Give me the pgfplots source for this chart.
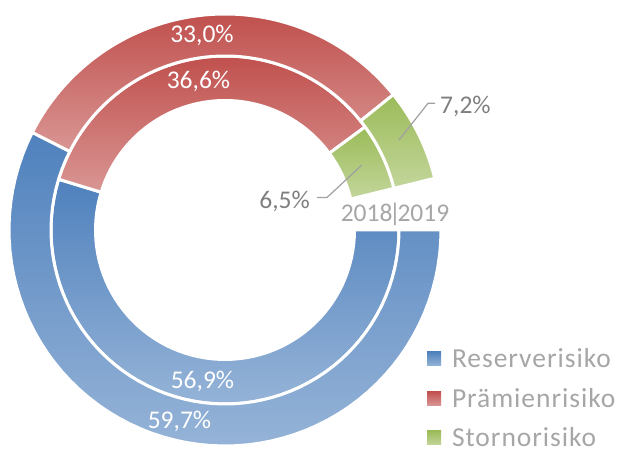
\documentclass[border=0pt]{standalone}
\usepackage{pgfplots}
\pgfplotsset{compat=1.18}
\usepackage{pgfplotstable}
\usepackage{fontspec}
\setmainfont{Carlito}
\newfontfamily\legendfamily[LetterSpace=3.5]{Carlito}

\definecolor{blueT}{HTML}{4F81BD}
\definecolor{blueB}{HTML}{95B3D7}
\definecolor{redT}{HTML}{C0504D}
\definecolor{redB}{HTML}{D99694}
\definecolor{greenT}{HTML}{9BBB59}
\definecolor{greenB}{HTML}{C3D69B}
\definecolor{labgray}{HTML}{7F7F7F}
\definecolor{leggray}{HTML}{A6A6A6}
\definecolor{linegray}{HTML}{A0A0A0}

% shares in percent; outer ring = 2019, inner ring = 2018; "Luecke" = invisible gap slice
\pgfplotstableread{
segment outer inner
Reserverisiko 59.7 56.9
Praemienrisiko 33.0 36.6
Stornorisiko 7.2 6.5
Luecke 4.0 4.0
}\shares

\pgfplotstablegetelem{0}{outer}\of\shares\pgfmathsetmacro\oA{\pgfplotsretval}
\pgfplotstablegetelem{1}{outer}\of\shares\pgfmathsetmacro\oB{\pgfplotsretval}
\pgfplotstablegetelem{2}{outer}\of\shares\pgfmathsetmacro\oC{\pgfplotsretval}
\pgfplotstablegetelem{3}{outer}\of\shares\pgfmathsetmacro\oD{\pgfplotsretval}
\pgfplotstablegetelem{0}{inner}\of\shares\pgfmathsetmacro\iA{\pgfplotsretval}
\pgfplotstablegetelem{1}{inner}\of\shares\pgfmathsetmacro\iB{\pgfplotsretval}
\pgfplotstablegetelem{2}{inner}\of\shares\pgfmathsetmacro\iC{\pgfplotsretval}
\pgfplotstablegetelem{3}{inner}\of\shares\pgfmathsetmacro\iD{\pgfplotsretval}
\pgfmathsetmacro\oT{\oA+\oB+\oC+\oD}
\pgfmathsetmacro\iT{\iA+\iB+\iC+\iD}
\pgfmathsetmacro\oa{-\oA/\oT*360}
\pgfmathsetmacro\ob{-(\oA+\oB)/\oT*360}
\pgfmathsetmacro\oc{-(\oA+\oB+\oC)/\oT*360}
\pgfmathsetmacro\ia{-\iA/\iT*360}
\pgfmathsetmacro\ib{-(\iA+\iB)/\iT*360}
\pgfmathsetmacro\ic{-(\iA+\iB+\iC)/\iT*360}

% ring segment: #1 start angle, #2 end angle, #3 inner radius, #4 outer radius, #5 top colour, #6 bottom colour
\newcommand{\ringseg}[6]{%
  \addplot[forget plot, no markers, draw=white, line width=3bp, line join=miter,
    top color=#5, bottom color=#6, variable=\t,
    samples at={0,0.015625,...,1,2,2.015625,...,3}]
    ({(\t<1.5 ? (#4) : (#3))*cos(\t<1.5 ? (#1)+((#2)-(#1))*\t : (#2)+((#1)-(#2))*(\t-2))},
     {(\t<1.5 ? (#4) : (#3))*sin(\t<1.5 ? (#1)+((#2)-(#1))*\t : (#2)+((#1)-(#2))*(\t-2))}) -- cycle;
}
\newcommand{\labfont}{\fontsize{25.5bp}{30bp}\selectfont}
\newcommand{\legfont}{\legendfamily\fontsize{27.5bp}{33bp}\selectfont}

\begin{document}
\begin{tikzpicture}
\begin{axis}[
  scale only axis, width=619bp, height=450bp,
  xmin=-225, xmax=394, ymin=-220, ymax=230,
  hide axis, clip=false,
  legend cell align=left,
  legend style={at={(axis cs:202,-114)}, anchor=north west, draw=none, fill=none,
    inner sep=0pt, outer sep=0pt, row sep=14.5bp, font=\legfont, text=leggray,
    nodes={inner sep=0pt, outer sep=0pt}},
]
\addplot[forget plot, draw=none] coordinates {(-225,-220) (394,230)};
% inner ring (2018)
\ringseg{0}{\ia}{129.5}{174}{blueT}{blueB}
\ringseg{\ia}{\ib}{129.5}{174}{redT}{redB}
\ringseg{\ib}{\ic}{129.5}{174}{greenT}{greenB}
% outer ring (2019)
\ringseg{0}{\oa}{174}{216}{blueT}{blueB}
\ringseg{\oa}{\ob}{174}{216}{redT}{redB}
\ringseg{\ob}{\oc}{174}{216}{greenT}{greenB}
% leader lines
\addplot[forget plot, no markers, linegray, line width=1.2bp] coordinates {(174,90) (203,126.7) (210,126.7)};
\addplot[forget plot, no markers, linegray, line width=1.2bp] coordinates {(137,65) (102,32.5) (92,32.5)};
% legend
\addlegendimage{legend image code/.code={\path[draw=none,fill=none] (0bp,-7bp) rectangle (25bp,14.8bp);
  \shade[draw=none, top color=blueT,bottom color=blueB] (0bp,-7bp) rectangle (14bp,7bp);}}
\addlegendentry{Reserverisiko}
\addlegendimage{legend image code/.code={\path[draw=none,fill=none] (0bp,-7bp) rectangle (25bp,14.8bp);
  \shade[draw=none, top color=redT,bottom color=redB] (0bp,-7bp) rectangle (14bp,7bp);}}
\addlegendentry{Prämienrisiko}
\addlegendimage{legend image code/.code={\path[draw=none,fill=none] (0bp,-7bp) rectangle (25bp,14.8bp);
  \shade[draw=none, top color=greenT,bottom color=greenB] (0bp,-7bp) rectangle (14bp,7bp);}}
\addlegendentry{Stornorisiko}
% labels
\node[anchor=base, inner sep=0pt, text=white, font=\labfont] at (axis cs:-23,187.3) {33,0\%};
\node[anchor=base, inner sep=0pt, text=white, font=\labfont] at (axis cs:-26.5,141) {36,6\%};
\node[anchor=base, inner sep=0pt, text=white, font=\labfont] at (axis cs:-22.5,-159) {56,9\%};
\node[anchor=base, inner sep=0pt, text=white, font=\labfont] at (axis cs:-45.5,-199) {59,7\%};
\node[anchor=base west, inner sep=0pt, text=labgray, font=\labfont] at (axis cs:215,116.7) {7,2\%};
\node[anchor=base east, inner sep=0pt, text=labgray, font=\labfont] at (axis cs:85,21) {6,5\%};
\node[anchor=base, inner sep=0pt, text=leggray, font=\labfont] at (axis cs:170,8) {2018\makebox[5bp]{|}2019};
\end{axis}
\end{tikzpicture}
\end{document}
